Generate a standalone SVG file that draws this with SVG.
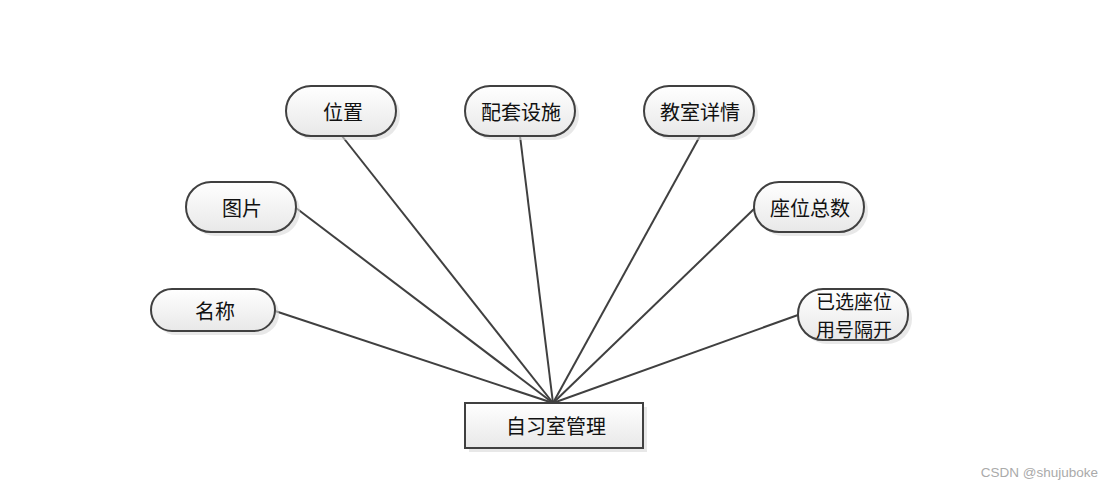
<svg xmlns="http://www.w3.org/2000/svg" width="1115" height="489" viewBox="0 0 1115 489">
<defs>
<linearGradient id="g" x1="0" y1="0" x2="0" y2="1">
<stop offset="0" stop-color="#ffffff"/>
<stop offset="1" stop-color="#e8e8e8"/>
</linearGradient>
<style>
.n{fill:url(#g);stroke:#404040;stroke-width:2}
.s{fill:#d8d8d8;opacity:0.6}
.t{font-family:"Noto Sans CJK SC","Noto Sans",sans-serif;font-size:20px;fill:#111;text-anchor:middle;dominant-baseline:central}
.t2{font-size:19px}
.c line{stroke:#404040;stroke-width:2}
</style>
</defs>
<rect width="1115" height="489" fill="#fff"/>
<g class="c" id="connectors">
<line x1="342" y1="136" x2="553" y2="403"/>
<line x1="520" y1="136" x2="553" y2="403"/>
<line x1="700" y1="136" x2="553" y2="403"/>
<line x1="296" y1="208" x2="553" y2="403"/>
<line x1="755" y1="208" x2="553" y2="403"/>
<line x1="275" y1="311" x2="553" y2="403"/>
<line x1="798" y1="315" x2="553" y2="403"/>
</g>
<g id="n1"><rect class="s" x="290" y="90" width="110" height="50" rx="25"/><rect class="n" x="286" y="86" width="110" height="50" rx="25"/><text class="t" x="343" y="111">位置</text></g>
<g id="n2"><rect class="s" x="469" y="90" width="110" height="50" rx="25"/><rect class="n" x="465" y="86" width="110" height="50" rx="25"/><text class="t" x="521" y="111">配套设施</text></g>
<g id="n3"><rect class="s" x="648" y="90" width="110" height="50" rx="25"/><rect class="n" x="644" y="86" width="110" height="50" rx="25"/><text class="t" x="700" y="111">教室详情</text></g>
<g id="n4"><rect class="s" x="190" y="186" width="110" height="50" rx="25"/><rect class="n" x="186" y="182" width="110" height="50" rx="25"/><text class="t" x="242" y="207">图片</text></g>
<g id="n5"><rect class="s" x="758" y="186" width="110" height="50" rx="25"/><rect class="n" x="754" y="182" width="110" height="50" rx="25"/><text class="t" x="810" y="207">座位总数</text></g>
<g id="n6"><rect class="s" x="155" y="293" width="124" height="42" rx="21"/><rect class="n" x="151" y="289" width="124" height="42" rx="21"/><text class="t" x="215" y="310">名称</text></g>
<g id="n7"><rect class="s" x="802" y="293" width="110" height="51" rx="25"/><rect class="n" x="798" y="289" width="110" height="51" rx="25"/><text class="t t2" x="854" y="300">已选座位</text><text class="t t2" x="854" y="328">用号隔开</text></g>
<g id="n8"><rect class="s" x="469" y="407" width="178" height="45"/><rect class="n" x="465" y="403" width="178" height="45"/><text class="t" x="556" y="425">自习室管理</text></g>
<text x="1098" y="477" font-family="'Liberation Sans',Arial,sans-serif" font-size="13.5" fill="#aaa" text-anchor="end">CSDN @shujuboke</text>
</svg>
